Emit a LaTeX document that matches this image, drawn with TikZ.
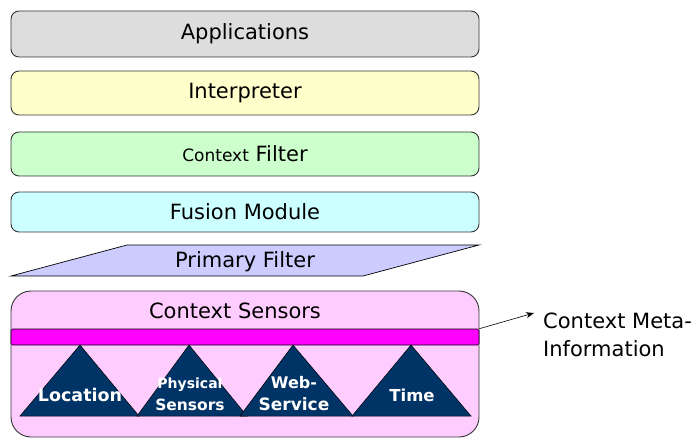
\documentclass[tikz,border=0pt]{standalone}
\usepackage{fontspec}
\setmainfont{DejaVu Sans}
\usetikzlibrary{arrows.meta}
\definecolor{appgray}{HTML}{DDDDDD}
\definecolor{interp}{HTML}{FFFFCC}
\definecolor{cfilter}{HTML}{CCFFCC}
\definecolor{fusion}{HTML}{CCFFFF}
\definecolor{pfilter}{HTML}{CCCCFF}
\definecolor{sensors}{HTML}{FFCCFF}
\definecolor{bar}{HTML}{FF00FF}
\definecolor{tri}{HTML}{003366}
\definecolor{edge}{HTML}{333333}
\tikzset{
  layer/.style={draw=edge, line width=0.9pt, rounded corners=8pt, minimum width=468pt, inner sep=0pt, font=\fontsize{21}{24}\selectfont},
  trilabel/.style={text=white, align=center, inner sep=0pt},
  tristyle/.style={fill=tri, draw=black, line width=0.5pt},
}
\begin{document}
\begin{tikzpicture}[x=1pt,y=-1pt]
\useasboundingbox (0,0) rectangle (698,438);
\fill[white] (0,0) rectangle (698,438);
% layers
\node[layer, fill=appgray, minimum height=46pt] (app) at (245,34) {Applications};
\node[layer, fill=interp, minimum height=44pt] (int) at (245,93) {Interpreter};
\node[layer, fill=cfilter, minimum height=44pt] (cf) at (245,154) {{\fontsize{17}{20}\selectfont Context} Filter};
\node[layer, fill=fusion, minimum height=40pt] (fm) at (245,212) {Fusion Module};
% primary filter
\draw[fill=pfilter, draw=black, line width=0.7pt] (127,245) -- (479,245) -- (363,276) -- (11,276) -- cycle;
\node[font=\fontsize{21}{24}\selectfont] (pf) at (245,262) {Primary Filter};
% context sensors
\draw[fill=sensors, draw=edge, line width=0.9pt, rounded corners=20pt] (11,291) rectangle (479,437);
\node[font=\fontsize{21}{24}\selectfont] (cs) at (235,311) {Context Sensors};
\node[draw=black, fill=bar, line width=0.6pt, rounded corners=1.5pt, minimum width=468pt, minimum height=16pt, inner sep=0pt] (bar) at (245,337) {};
% triangles
\draw[tristyle] (20,416) -- (80,345) -- (139,416) -- cycle;
\draw[tristyle] (137,416) -- (189,345) -- (247,416) -- cycle;
\draw[tristyle] (240,416) -- (293,345) -- (353,416) -- cycle;
\draw[tristyle] (352,416) -- (411,345) -- (471,416) -- cycle;
\node[trilabel, font=\bfseries\fontsize{17.5}{20}\selectfont] (loc) at (80,395) {Location};
\node[trilabel, font=\bfseries\fontsize{15.5}{22}\selectfont] (phys) at (190,394) {{\fontsize{14}{22}\selectfont Physical}\\Sensors};
\node[trilabel, font=\bfseries\fontsize{16}{22}\selectfont] (web) at (294,394) {Web-\\{\fontsize{17}{22}\selectfont Service}};
\node[trilabel, font=\bfseries\fontsize{16.5}{20}\selectfont] (time) at (412,395) {Time};
% meta information
\node[anchor=west, align=left, font=\fontsize{21}{28}\selectfont, inner sep=0pt] (meta) at (543,335) {Context Meta-\\Information};
\coordinate (tip) at (534,313);
\draw[-{Stealth[length=8pt,width=6pt]}, line width=0.6pt] (bar.north east) -- (tip);
\end{tikzpicture}
\end{document}
